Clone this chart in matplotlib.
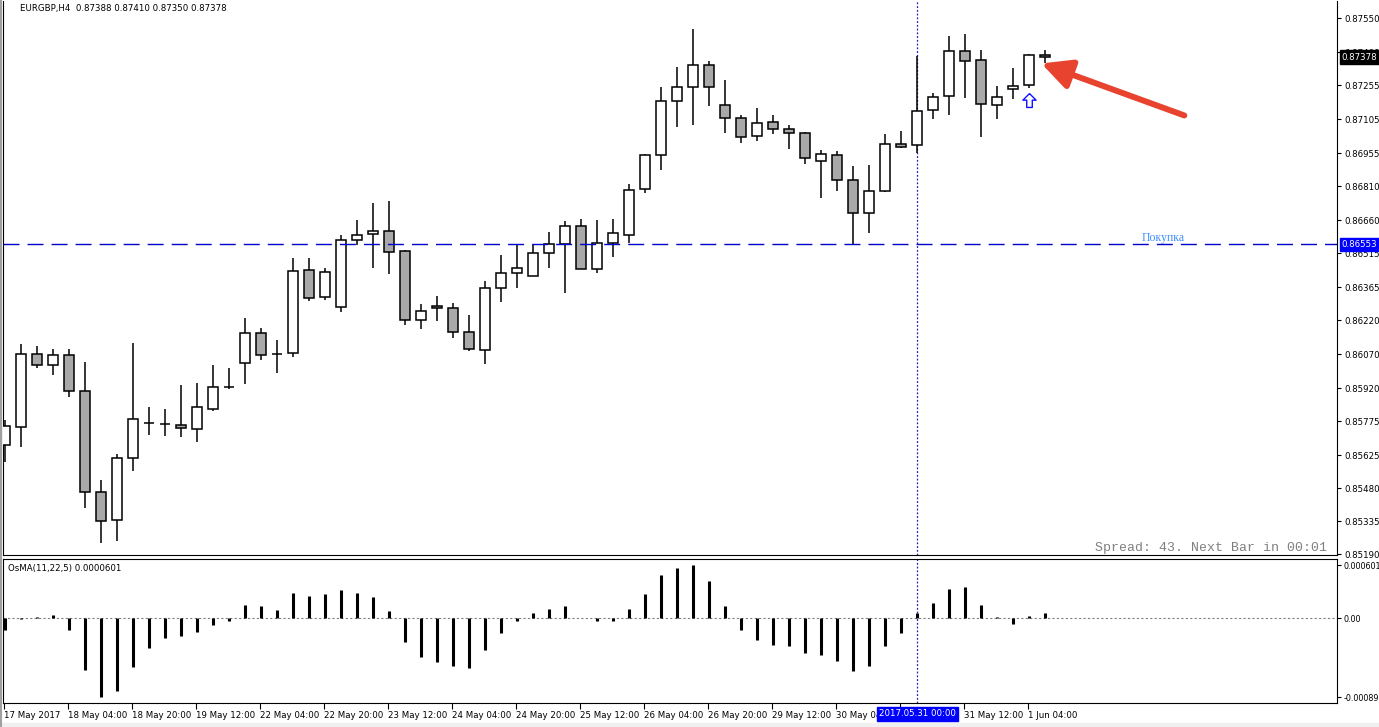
import matplotlib
matplotlib.use("Agg")
import matplotlib.pyplot as plt
import numpy as np
from matplotlib.transforms import offset_copy
from matplotlib.patches import Rectangle

W, H = 1379, 727

# EURGBP H4 candles, 17 May 2017 12:00 .. 1 Jun 2017 08:00
opens = [0.85669, 0.85748, 0.86069, 0.86021, 0.86065, 0.85906, 0.85462, 0.85338, 0.85611, 0.85766,
         0.85762, 0.85759, 0.85742, 0.85830, 0.85925, 0.86030, 0.86162, 0.86071, 0.86074, 0.86440,
         0.86320, 0.86279, 0.86571, 0.86598, 0.86611, 0.86523, 0.86219, 0.86281, 0.86272, 0.86166,
         0.86087, 0.86360, 0.86426, 0.86413, 0.86514, 0.86554, 0.86633, 0.86444, 0.86558, 0.86593,
         0.86796, 0.86946, 0.87183, 0.87245, 0.87342, 0.87166, 0.87108, 0.87029, 0.87091, 0.87060,
         0.87042, 0.86919, 0.86946, 0.86835, 0.86690, 0.86787, 0.86994, 0.86990, 0.87144, 0.87205,
         0.87403, 0.87364, 0.87166, 0.87236, 0.87254, 0.87388]
highs = [0.85780, 0.86115, 0.86106, 0.86093, 0.86093, 0.86035, 0.85516, 0.85630, 0.86118, 0.85836,
         0.85827, 0.85934, 0.85943, 0.86022, 0.86009, 0.86229, 0.86185, 0.86132, 0.86493, 0.86493,
         0.86449, 0.86593, 0.86659, 0.86734, 0.86743, 0.86527, 0.86290, 0.86325, 0.86294, 0.86241,
         0.86391, 0.86505, 0.86554, 0.86551, 0.86607, 0.86655, 0.86664, 0.86659, 0.86664, 0.86819,
         0.86951, 0.87245, 0.87333, 0.87500, 0.87359, 0.87276, 0.87122, 0.87152, 0.87122, 0.87078,
         0.87047, 0.86968, 0.86963, 0.86897, 0.86901, 0.87038, 0.87051, 0.87383, 0.87219, 0.87471,
         0.87480, 0.87408, 0.87249, 0.87329, 0.87390, 0.87410]
lows = [0.85594, 0.85663, 0.86010, 0.85980, 0.85883, 0.85394, 0.85237, 0.85249, 0.85557, 0.85715,
        0.85710, 0.85707, 0.85685, 0.85821, 0.85917, 0.85940, 0.86046, 0.85988, 0.86059, 0.86304,
        0.86308, 0.86257, 0.86549, 0.86451, 0.86424, 0.86200, 0.86182, 0.86217, 0.86142, 0.86085,
        0.86025, 0.86301, 0.86363, 0.86413, 0.86451, 0.86341, 0.86444, 0.86429, 0.86499, 0.86558,
        0.86778, 0.86882, 0.87071, 0.87080, 0.87164, 0.87045, 0.86998, 0.87010, 0.87038, 0.86975,
        0.86909, 0.86759, 0.86790, 0.86553, 0.86602, 0.86783, 0.86976, 0.86954, 0.87104, 0.87124,
        0.87199, 0.87027, 0.87104, 0.87192, 0.87241, 0.87350]
closes = [0.85752, 0.86069, 0.86021, 0.86065, 0.85906, 0.85462, 0.85334, 0.85611, 0.85783, 0.85767,
          0.85761, 0.85744, 0.85836, 0.85924, 0.85926, 0.86162, 0.86065, 0.86072, 0.86436, 0.86317,
          0.86433, 0.86571, 0.86593, 0.86611, 0.86518, 0.86219, 0.86259, 0.86272, 0.86166, 0.86091,
          0.86360, 0.86426, 0.86448, 0.86514, 0.86554, 0.86633, 0.86444, 0.86558, 0.86602, 0.86791,
          0.86946, 0.87183, 0.87245, 0.87342, 0.87245, 0.87108, 0.87025, 0.87086, 0.87060, 0.87042,
          0.86932, 0.86950, 0.86835, 0.86690, 0.86787, 0.86994, 0.86981, 0.87139, 0.87201, 0.87403,
          0.87359, 0.87170, 0.87201, 0.87249, 0.87386, 0.87378]

# OsMA(11,22,5) histogram, units of 1e-5
osma = [-13, -1, 1, 4, -13, -58, -89.2, -82, -55, -34,
        -22, -20, -16, -7.5, -2.5, 15, 14, 9.5, 29, 25,
        27.5, 32, 28.5, 24, 8, -27, -44, -49, -54, -56,
        -36, -17, -3.5, 6, 10, 14, 0.3, -3.5, -2.5, 10.5,
        27.5, 49, 57, 60.1, 42, 14, -13, -24.5, -30, -31,
        -39, -41.5, -48, -59.5, -54, -31, -16.5, 6, 17, 33.5,
        35, 15, 1.5, -6.5, 2.5, 6.01]

price_ticks = [0.87550, 0.87400, 0.87255, 0.87105, 0.86955, 0.86810, 0.86660, 0.86515, 0.86365,
               0.86220, 0.86070, 0.85920, 0.85775, 0.85625, 0.85480, 0.85335, 0.85190]
time_tick_idx = [0, 4, 8, 12, 16, 20, 24, 28, 32, 36, 40, 44, 48, 52, 56, 60, 64]
time_labels = ["17 May 2017", "18 May 04:00", "18 May 20:00", "19 May 12:00", "22 May 04:00",
               "22 May 20:00", "23 May 12:00", "24 May 04:00", "24 May 20:00", "25 May 12:00",
               "26 May 04:00", "26 May 20:00", "29 May 12:00", "30 May 04:00", "30 May 20:00",
               "31 May 12:00", "1 Jun 04:00"]
osma_ticks = [0.000601, 0.0, -0.000892]
osma_tick_labels = ["0.000601", "0.00", "-0.000892"]

buy_level = 0.86553
last_price = 0.87378
cursor_idx = 57
cursor_label = "2017.05.31 00:00"
signal_idx = 64

plt.rcParams['font.family'] = ['DejaVu Sans']

fig = plt.figure(figsize=(W / 100, H / 100), dpi=100, facecolor='white')
ax = fig.add_axes([3 / W, 1 - 555 / H, 1334 / W, 554 / H])
ax2 = fig.add_axes([3 / W, 1 - 703 / H, 1334 / W, 144 / H])

x = np.arange(len(opens))
o = np.array(opens)
c = np.array(closes)
h = np.array(highs)
l = np.array(lows)
up = c >= o

# candles
ax.vlines(x, l, h, color='black', lw=1.1, zorder=2)
body_h = np.maximum(np.abs(c - o), 0.000005)
body_colors = ['white' if u else '#a9a9a9' for u in up]
ax.bar(x, body_h, bottom=np.minimum(o, c), width=0.62, color=body_colors,
       edgecolor='black', linewidth=1.1, zorder=3)

ax.set_xlim(-0.144, 83.23)
ax.set_ylim(0.85186, 0.87625)

# buy level line + label
ax.axhline(buy_level, color='#0000c8', lw=1, dashes=(11.5, 5.8), zorder=4)
ax.text(71.0, buy_level, "Покупка", color='#3d8eff', fontsize=8.5,
        family='Liberation Serif', ha='left', va='bottom', zorder=5)

# cursor line
for a in (ax, ax2):
    a.axvline(cursor_idx, color='#2020b0', lw=0.9, ls=(0, (1.5, 1.5)), zorder=1)

# buy signal arrow under the bar
arrow_verts = [(0, 1), (-0.95, 0.05), (-0.4, 0.05), (-0.4, -1), (0.4, -1), (0.4, 0.05), (0.95, 0.05), (0, 1)]
ax.plot(signal_idx, lows[signal_idx], marker=arrow_verts, markersize=10, mfc='white', mec='#1010ff', mew=1,
        transform=offset_copy(ax.transData, fig=fig, y=-12, units='dots'), zorder=6)

# red arrow pointing to last bar
ax.annotate('', xy=(x[-1] - 0.25, lows[-1]), xytext=(143, -52), textcoords='offset pixels',
            arrowprops=dict(arrowstyle='-|>,head_length=0.9,head_width=0.45', mutation_scale=20,
                            lw=4.3, color='#e8432f', shrinkA=0, shrinkB=0), zorder=12)

# price axis
ax.yaxis.tick_right()
ax.set_yticks(price_ticks)
ax.set_yticklabels([f"{v:.5f}" for v in price_ticks])
ax.tick_params(axis='y', length=3, width=0.8, labelsize=6.2, pad=2)
ax.set_xticks([])
ax.spines['top'].set_visible(False)
for s in ('left', 'right', 'bottom'):
    ax.spines[s].set_linewidth(0.8)

ax.text(1.0035, last_price, f"{last_price:.5f}", transform=ax.get_yaxis_transform(),
        ha='left', va='center', color='white', fontsize=6.2, zorder=10, clip_on=False,
        bbox=dict(boxstyle='square,pad=0.25', fc='black', ec='black'))
ax.text(1.0035, buy_level, f"{buy_level:.5f}", transform=ax.get_yaxis_transform(),
        ha='left', va='center', color='white', fontsize=6.2, zorder=10, clip_on=False,
        bbox=dict(boxstyle='square,pad=0.25', fc='#0000ff', ec='#0000ff'))

# OsMA panel
osma_vals = np.array(osma) * 1e-5
ax2.vlines(x, 0, osma_vals, color='black', lw=2.2, zorder=3)
ax2.axhline(0, color='#808080', lw=0.8, ls=(0, (2, 2)), zorder=2)
ax2.set_xlim(-0.144, 83.23)
ax2.set_ylim(-0.000957, 0.000670)
ax2.yaxis.tick_right()
ax2.set_yticks(osma_ticks)
ax2.set_yticklabels(osma_tick_labels)
ax2.tick_params(axis='y', length=3, width=0.8, labelsize=5.8, pad=1.5)
ax2.set_xticks(np.array(time_tick_idx) - 0.08)
ax2.set_xticklabels(time_labels, ha='left')
ax2.tick_params(axis='x', length=4, width=0.8, labelsize=6.2, pad=2)
for s in ax2.spines.values():
    s.set_linewidth(0.8)

ax2.text(cursor_idx, -0.076, cursor_label, transform=ax2.get_xaxis_transform(),
         ha='center', va='center', color='white', fontsize=6.2, zorder=10, clip_on=False,
         bbox=dict(boxstyle='square,pad=0.25', fc='#0000ff', ec='#0000ff'))

# header texts
fig.text(20 / W, 1 - 9 / H, "EURGBP,H4  0.87388 0.87410 0.87350 0.87378", fontsize=6.2, va='center')
fig.text(8 / W, 1 - 568 / H, "OsMA(11,22,5) 0.0000601", fontsize=6.2, va='center')
fig.text(1095 / W, 1 - 548 / H, "Spread: 43. Next Bar in 00:01", family='Liberation Mono',
         fontsize=9.5, color='#808080', va='center')

# window frame bits
fig.add_artist(plt.Line2D([0.0007, 0.0007], [0, 1], color='#a0a0a0', lw=1.5, transform=fig.transFigure))
fig.add_artist(Rectangle((0, 0), 1, 4 / H, transform=fig.transFigure, color='#f0f0f0', zorder=0))

fig.savefig("out.png", dpi=100, facecolor='white')
